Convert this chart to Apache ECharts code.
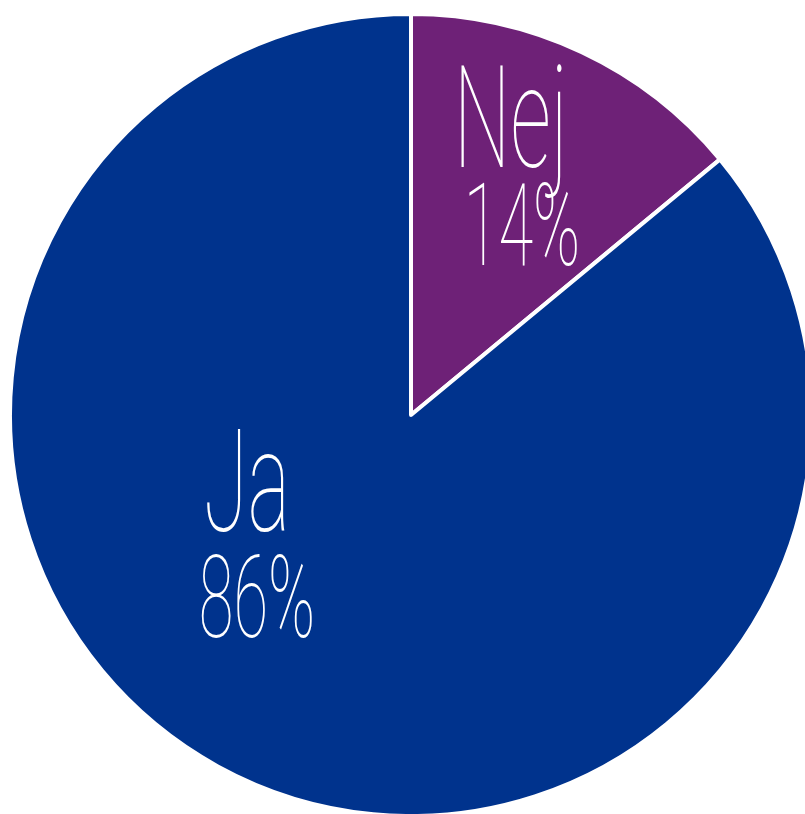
<!DOCTYPE html>
<html>
<head>
<meta charset="utf-8">
<style>
  html, body { margin: 0; padding: 0; background: #ffffff; }
  #chart { width: 805px; height: 814px; }
</style>
<script src="https://cdn.jsdelivr.net/npm/echarts@6/dist/echarts.min.js"></script>
</head>
<body>
<div id="chart"></div>
<script>
// Answer categories and their shares (percent)
const categories = ['Nej', 'Ja'];
const shares = [14, 86];
const colors = ['#6E2177', '#00338D'];

// Where each two-line label sits: [x of name, y of name, x of value, y of value]
const labelSpots = [
  [511, 131, 522, 236],
  [247, 495, 257, 608]
];

const chart = echarts.init(document.getElementById('chart'), null, { renderer: 'canvas' });

const FONT = 'Roboto, "Liberation Sans Narrow", sans-serif';

const labelGraphics = [];
categories.forEach((name, i) => {
  const [xName, yName, xValue, yValue] = labelSpots[i];
  labelGraphics.push({
    type: 'text', x: xName, y: yName, scaleX: 0.56, z: 10,
    style: {
      text: name, fill: '#ffffff', fontFamily: FONT, fontWeight: 100, fontSize: 143,
      textAlign: 'center', textVerticalAlign: 'middle'
    }
  });
  labelGraphics.push({
    type: 'text', x: xValue, y: yValue, scaleX: 0.55, z: 10,
    style: {
      text: shares[i] + '%', fill: '#ffffff', fontFamily: FONT, fontWeight: 100, fontSize: 115,
      textAlign: 'center', textVerticalAlign: 'middle'
    }
  });
});

chart.setOption({
  animation: false,
  backgroundColor: '#ffffff',
  series: [{
    type: 'pie',
    center: [411, 415],
    radius: [0, 401],
    startAngle: 90,
    clockwise: true,
    label: { show: false },
    labelLine: { show: false },
    itemStyle: { borderColor: '#ffffff', borderWidth: 4 },
    emphasis: { disabled: true },
    data: categories.map((name, i) => ({
      name: name, value: shares[i], itemStyle: { color: colors[i] }
    }))
  }],
  graphic: labelGraphics
});
</script>
</body>
</html>
